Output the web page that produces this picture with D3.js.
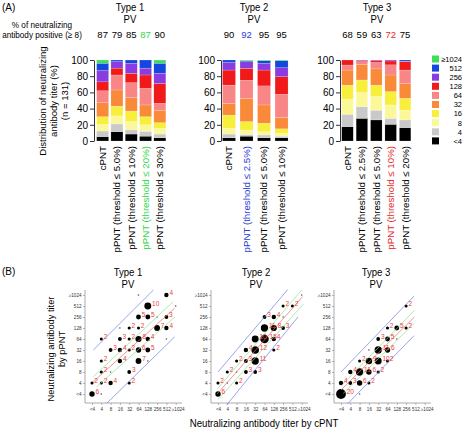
<!DOCTYPE html>
<html><head><meta charset="utf-8">
<script src="https://cdn.jsdelivr.net/npm/d3@7"></script>
<style>
body{margin:0;background:#fff}
svg{display:block;font-family:"Liberation Sans",Arial,Helvetica,sans-serif}
</style>
</head><body>
<svg id="c" width="463" height="431"></svg>
<script>
// ---------------- DATA ----------------
const titerLevels = ["<4","4","8","16","32","64","128","256","512","≥1024"];
const levelColors = ["#000000","#c9c9c9","#fbf89a","#f8ef3c","#f88a3a","#f88686","#f01a1a","#8a3ce0","#1446e0","#3ddf5a"];
const pctTicks = [0,20,40,60,80,100];

const type1Cats = ["cPNT","pPNT (threshold ≤ 5.0%)","pPNT (threshold ≤ 10%)","pPNT (threshold ≤ 20%)","pPNT (threshold ≤ 30%)"];
const type1Positive = [87,79,85,87,90];
const type1Dist = [
  [5.4,6.9,8.3,9.4,17.3,14.7,11,14,9,4],
  [11.5,9.5,10,12,20,18.5,8.5,8,2,0],
  [8.6,5,10.4,13,16.5,18.5,11.5,12.5,4,0],
  [6,6,8,10,14.5,20.5,16.5,8.5,10,0],
  [4,4.6,7,7,15.4,8.5,24.5,12.5,12.5,4]
];
const type2Cats = ["cPNT","pPNT (threshold ≤ 2.5%)","pPNT (threshold ≤ 5.0%)","pPNT (threshold ≤ 10%)"];
const type2Positive = [90,92,95,95];
const type2Dist = [
  [4,4.6,7,16.4,14.5,22.5,18.6,9.4,3,0],
  [6,2,5.6,10.4,28.7,22.3,14.7,8.3,1,1],
  [4,3.4,4.1,10.5,22.5,23.5,19.6,8.4,3,1],
  [4,2,3.5,5.5,14,28.6,21.8,11.1,8.5,1]
];
const type3Cats = ["cPNT","pPNT (threshold ≤ 2.5%)","pPNT (threshold ≤ 5.0%)","pPNT (threshold ≤ 10%)","pPNT (threshold ≤ 20%)"];
const type3Positive = [68,59,63,72,75];
const type3Dist = [
  [17.7,15.3,18.4,17.6,18.6,6.2,6.2,0,0,0],
  [28,14.4,17.6,15.3,19.3,3.4,1.2,0.8,0,0],
  [26,12,17,14,20,8,2.2,0.8,0,0],
  [20.6,7.4,16.5,16.5,20.5,12.5,4.8,1.2,0,0],
  [16.5,9.5,12,14.7,18.3,16.6,10.4,0.5,1.5,0]
];

// scatter points: [cPNT level index, pPNT level index, count]
const scatter1Points = [
  [0,0,6],[0,1,2],[1,1,2],[2,1,4],[4,1,2],[1,2,2],[2,2,1],[4,2,3],[1,3,2],[3,3,4],[5,3,7],
  [2,4,3],[3,4,4],[4,4,2],[5,4,6],[6,4,5],[1,5,2],[3,5,3],[4,5,2],[5,5,8],[6,5,4],
  [4,6,2],[5,6,2],[7,6,7],[8,6,4],[5,7,5],[6,7,5],[8,7,3],[6,8,10],[8,9,4],
  [5,9,1],[9,8,1],[6,3,1],[8,5,1],[1,0,1],[3,6,1],[7,7,1]
];
const scatter2Points = [
  [0,0,6],[0,1,2],[1,1,1],[2,1,2],[1,2,2],[2,3,2],[3,2,3],[4,2,3],[3,3,3],[4,3,11],
  [3,4,4],[4,4,12],[4,5,10],[5,5,15],[6,5,4],[6,4,2],[5,6,11],[6,6,8],[7,6,3],
  [5,7,3],[6,7,4],[7,8,2],[8,8,2],[7,7,1],[2,2,1],[9,9,1]
];
const scatter3Points = [
  [0,0,20],[0,1,4],[1,1,3],[2,1,6],[3,1,2],[1,2,4],[2,2,11],[3,2,6],[4,2,2],[2,3,2],
  [3,3,9],[4,3,10],[5,3,2],[4,4,11],[5,4,6],[4,5,3],[5,5,5],[5,6,2],[6,6,5],[7,6,2],[7,8,2],
  [2,0,1],[6,5,1],[3,4,1]
];
// lines: [x1,y1,x2,y2] in level-index units; order: upper limit, upper CI, fit, lower CI, lower limit
const scatter1Lines = [[0.14,4.0,6.6,9.45],[0.14,1.57,8.74,8.4],[0.14,1.12,8.9,7.8],[0.5,0.66,8.9,7.0],[1.58,-0.85,8.9,5.2]];
const scatter2Lines = [[0,2.0,7.5,9.5],[-0.1,0.43,9.0,9.45],[-0.1,0.0,9.1,8.85],[0,-0.5,9.2,8.2],[0.93,-1.0,8.6,7.0]];
const scatter3Lines = [[0,2.0,7.85,8.9],[0,0.73,7.9,7.6],[0,0.36,7.9,7.0],[0.25,0.06,7.9,6.45],[0.7,-0.9,7.85,5.3]];

// ---------------- DRAW ----------------
const svg = d3.select("#c");
function htext(x, y, txt, size, sx, anchor, color) {
  return svg.append("text")
    .attr("transform", `translate(${x},${y}) scale(${sx},1)`)
    .attr("text-anchor", anchor || "middle")
    .attr("font-size", size)
    .attr("fill", color || "#000")
    .text(txt);
}
function vtext(x, y, txt, size, anchor, color) {
  return svg.append("text")
    .attr("transform", `translate(${x},${y}) rotate(-90)`)
    .attr("text-anchor", anchor || "middle")
    .attr("dy", "0.35em")
    .attr("font-size", size)
    .attr("fill", color || "#000")
    .text(txt);
}

// ----- Panel A -----
htext(2, 10.5, "(A)", 10, 1, "start");
htext(42, 28, "% of neutralizing", 9.5, 0.86);
htext(42, 38, "antibody positive (≥ 8)", 9.5, 0.86);

vtext(43, 101, "Distribution of neutralizing", 9.5);
vtext(54, 101, "antibody titer (%)", 9.5);
vtext(65, 101, "(n = 131)", 9.5);

const yPct = d3.scaleLinear().domain([0,100]).range([141,60]);
const panels = [
  {title:"Type 1", cats:type1Cats, pos:type1Positive, dist:type1Dist, hi:3, hiColor:"#2fd84a", axisX:94, range:[95.2,167.3], pi:0.16, po:0.1, titleX:130},
  {title:"Type 2", cats:type2Cats, pos:type2Positive, dist:type2Dist, hi:1, hiColor:"#2a3ed8", axisX:221, range:[220.75,289.8], pi:0.257, po:0.1, titleX:254},
  {title:"Type 3", cats:type3Cats, pos:type3Positive, dist:type3Dist, hi:3, hiColor:"#e62a2a", axisX:340, range:[341,411.6], pi:0.2, po:0.05, titleX:377}
];
const stack = d3.stack().keys(d3.range(10));
panels.forEach(p => {
  htext(p.titleX, 10.5, p.title, 11, 0.87);
  htext(p.titleX, 22.5, "PV", 11, 0.87);
  const x = d3.scaleBand().domain(p.cats).range(p.range).paddingInner(p.pi).paddingOuter(p.po);
  const rows = p.dist.map(d => Object.assign({}, d));
  const series = stack(rows);
  const g = svg.append("g");
  series.forEach((s, li) => {
    g.selectAll(null).data(s).enter().append("rect")
      .attr("x", (d, i) => x(p.cats[i]))
      .attr("width", x.bandwidth())
      .attr("y", d => yPct(d[1]))
      .attr("height", d => Math.max(0, yPct(d[0]) - yPct(d[1])))
      .attr("fill", levelColors[li])
      .attr("stroke", "#ffffff").attr("stroke-width", 0.3).attr("stroke-opacity", 0.6);
  });
  const ax = svg.append("g").attr("transform", `translate(${p.axisX},0)`)
    .call(d3.axisLeft(yPct).tickValues(pctTicks).tickSize(4).tickSizeOuter(0).tickPadding(2));
  ax.selectAll("text").attr("font-size", 10).attr("font-family", null).attr("fill", "#000");
  ax.selectAll("line,path").attr("stroke", "#000").attr("stroke-width", 0.8);
  p.cats.forEach((c, i) => {
    const cx = x(c) + x.bandwidth() / 2;
    const col = i === p.hi ? p.hiColor : "#000";
    svg.append("text").attr("x", cx).attr("y", 38).attr("text-anchor", "middle")
      .attr("font-size", 9.5).attr("fill", col).text(p.pos[i]);
    vtext(cx, 146, c, 9.7, "end", col);
  });
});

// legend
const legendOrder = d3.range(9, -1, -1);
legendOrder.forEach((li, k) => {
  const yy = 55.5 + k * 9.1;
  svg.append("rect").attr("x", 432).attr("y", yy).attr("width", 7).attr("height", 7).attr("fill", levelColors[li]);
  svg.append("text").attr("x", 462).attr("y", yy + 6.3).attr("text-anchor", "end")
    .attr("font-size", 7.5).text(titerLevels[li]);
});

// ----- Panel B -----
htext(2, 275, "(B)", 10, 1, "start");
vtext(51, 349, "Neutralizing antibody titer", 9.3);
vtext(62, 349, "by pPNT", 9.3);
htext(264, 427, "Neutralizing antibody titer by cPNT", 10.5, 0.92);

const scatters = [
  {title:"Type 1", pts:scatter1Points, lines:scatter1Lines, x0:92, titleX:128},
  {title:"Type 2", pts:scatter2Points, lines:scatter2Lines, x0:218, titleX:256},
  {title:"Type 3", pts:scatter3Points, lines:scatter3Lines, x0:341, titleX:376}
];
const lineColors = ["#6f80e0","#8ee08e","#e86a6a","#8ee08e","#6f80e0"];
const rScale = d3.scaleSqrt().domain([0,20]).range([0,4.9]);
scatters.forEach(s => {
  htext(s.titleX, 276, s.title, 11, 0.87);
  htext(s.titleX, 288, "PV", 11, 0.87);
  const xi = d3.scaleLinear().domain([0,9]).range([s.x0, s.x0 + 83.7]);
  const yi = d3.scaleLinear().domain([0,9]).range([394, 295]);
  const g = svg.append("g");
  const axX = s.x0 - 7;
  const yAx = g.append("g").attr("transform", `translate(${axX},0)`)
    .call(d3.axisLeft(yi).tickValues(d3.range(10)).tickFormat(i => titerLevels[i]).tickSize(2).tickPadding(1.5));
  const xAx = g.append("g").attr("transform", `translate(0,403)`)
    .call(d3.axisBottom(xi).tickValues(d3.range(10)).tickFormat(i => titerLevels[i]).tickSize(2).tickPadding(2.5));
  [yAx, xAx].forEach(a => {
    a.select(".domain").remove();
    a.selectAll("line").attr("stroke", "#888").attr("stroke-width", 0.6);
    a.selectAll("text").attr("font-size", 4.6).attr("font-family", null).attr("fill", "#333");
  });
  xAx.selectAll("text").filter(i => i === 9).attr("dx", 2);

  g.append("line").attr("x1", axX).attr("x2", axX).attr("y1", 290).attr("y2", 403).attr("stroke", "#888").attr("stroke-width", 0.7);
  g.append("line").attr("x1", axX).attr("x2", s.x0 + 90).attr("y1", 403).attr("y2", 403).attr("stroke", "#888").attr("stroke-width", 0.7);

  g.selectAll(null).data(s.pts).enter().append("circle")
    .attr("cx", d => xi(d[0])).attr("cy", d => yi(d[1]))
    .attr("r", d => d[2] === 1 ? 0.8 : rScale(d[2]))
    .attr("fill", d => d[2] === 1 ? "#555" : "#000");

  g.selectAll(null).data(s.lines).enter().append("line")
    .attr("x1", d => xi(d[0])).attr("y1", d => yi(d[1]))
    .attr("x2", d => xi(d[2])).attr("y2", d => yi(d[3]))
    .attr("stroke", (d, i) => lineColors[i]).attr("stroke-width", 0.7);

  g.selectAll(null).data(s.pts.filter(d => d[2] > 1)).enter().append("text")
    .attr("x", d => xi(d[0]) + rScale(d[2]) + 0.8)
    .attr("y", d => yi(d[1]) - 0.5)
    .attr("font-size", 6.5).attr("fill", "#e8413c")
    .text(d => d[2]);
});
</script>
</body></html>
